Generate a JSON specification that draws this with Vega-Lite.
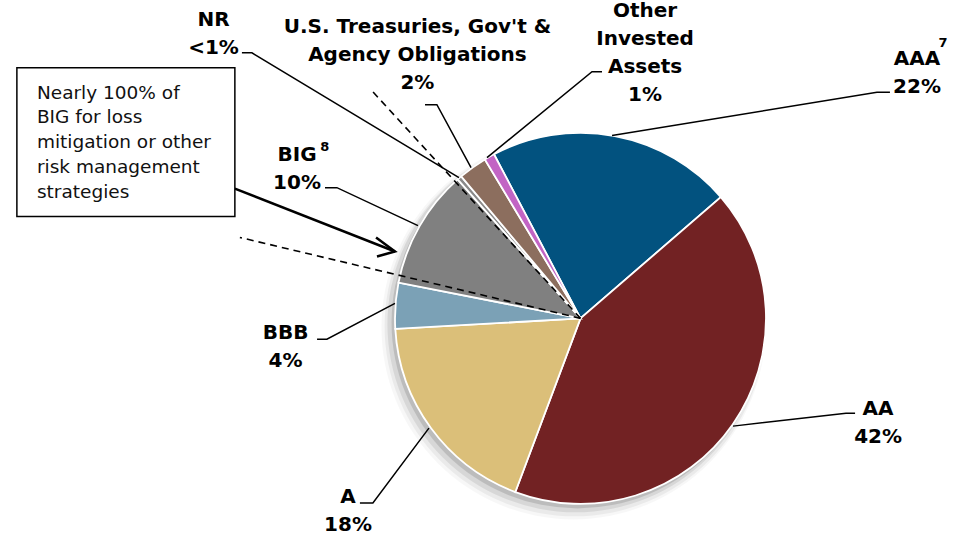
{
  "$schema": "https://vega.github.io/schema/vega-lite/v6.json",
  "width": 961,
  "height": 535,
  "autosize": {"type": "fit", "contains": "padding"},
  "padding": 0,
  "background": "white",
  "config": {"view": {"stroke": null}},
  "datasets": {
    "slices": [
      {"segment": "AAA", "value": 21.4, "order": 1},
      {"segment": "AA", "value": 42.1, "order": 2},
      {"segment": "A", "value": 18.4, "order": 3},
      {"segment": "BBB", "value": 4.0, "order": 4},
      {"segment": "BIG", "value": 10.4, "order": 5},
      {"segment": "NR", "value": 0.4, "order": 6},
      {"segment": "U.S. Treasuries, Gov't & Agency Obligations", "value": 2.5, "order": 7},
      {"segment": "Other Invested Assets", "value": 0.9, "order": 8}
    ],
    "labels": [
      {"label": "AAA\n22%", "x": 181.4, "y": 136.9},
      {"label": "AA\n42%", "x": 160.4, "y": -52.3},
      {"label": "A\n18%", "x": -125.3, "y": -99.7},
      {"label": "BBB\n4%", "x": -159.0, "y": -11.3},
      {"label": "BIG\n10%", "x": -152.8, "y": 85.2},
      {"label": "NR\n<1%", "x": -197.8, "y": 158.0},
      {"label": "U.S. Treasuries, Gov't &\nAgency Obligations\n2%", "x": -87.9, "y": 154.2},
      {"label": "Other\nInvested\nAssets\n1%", "x": 34.8, "y": 163.0}
    ],
    "notes": [
      {"label": "7", "x": 195.4, "y": 146.6},
      {"label": "8", "x": -137.8, "y": 90.6}
    ],
    "leaders": [
      {"id": "AAA", "seq": 1, "x": 166.8, "y": 122.1},
      {"id": "AAA", "seq": 2, "x": 159.8, "y": 122.1},
      {"id": "AAA", "seq": 3, "x": 17.0, "y": 98.7},
      {"id": "AA", "seq": 1, "x": 148.0, "y": -51.2},
      {"id": "AA", "seq": 2, "x": 143.1, "y": -51.2},
      {"id": "AA", "seq": 3, "x": 82.2, "y": -58.2},
      {"id": "A", "seq": 1, "x": -118.9, "y": -99.7},
      {"id": "A", "seq": 2, "x": -111.9, "y": -99.7},
      {"id": "A", "seq": 3, "x": -81.7, "y": -59.3},
      {"id": "BBB", "seq": 1, "x": -142.0, "y": -11.3},
      {"id": "BBB", "seq": 2, "x": -136.7, "y": -11.3},
      {"id": "BBB", "seq": 3, "x": -100.0, "y": 8.1},
      {"id": "BIG", "seq": 1, "x": -137.7, "y": 70.6},
      {"id": "BIG", "seq": 2, "x": -131.3, "y": 70.6},
      {"id": "BIG", "seq": 3, "x": -87.6, "y": 50.1},
      {"id": "NR", "seq": 1, "x": -182.5, "y": 143.4},
      {"id": "NR", "seq": 2, "x": -177.1, "y": 143.4},
      {"id": "NR", "seq": 3, "x": -65.5, "y": 76.0},
      {"id": "UST", "seq": 1, "x": -83.8, "y": 115.4},
      {"id": "UST", "seq": 2, "x": -77.4, "y": 115.4},
      {"id": "UST", "seq": 3, "x": -59.0, "y": 81.4},
      {"id": "Other", "seq": 1, "x": 11.6, "y": 133.2},
      {"id": "Other", "seq": 2, "x": 6.2, "y": 133.2},
      {"id": "Other", "seq": 3, "x": -50.4, "y": 86.8}
    ],
    "dashes": [
      {"x": 0, "y": 0, "x2": -112.4, "y2": 122.9},
      {"x": 0, "y": 0, "x2": -183.6, "y2": 43.7}
    ],
    "arrow": [
      {"id": "shaft", "seq": 1, "x": -186.3, "y": 70.1},
      {"id": "shaft", "seq": 2, "x": -100.0, "y": 36.1},
      {"id": "head", "seq": 1, "x": -110.2, "y": 43.7},
      {"id": "head", "seq": 2, "x": -100.0, "y": 36.1},
      {"id": "head", "seq": 3, "x": -109.7, "y": 33.4}
    ],
    "box": [
      {"x": -303.8, "x2": -186.3, "y": 135.3, "y2": 55.0}
    ],
    "boxtext": [
      {"label": "Nearly 100% of\nBIG for loss\nmitigation or other\nrisk management\nstrategies", "x": -293.0, "y": 118.6}
    ]
  },
  "encoding": {
    "x": {"type": "quantitative", "scale": {"domain": [-312.9, 205.1], "nice": false, "zero": false}, "axis": null},
    "y": {"type": "quantitative", "scale": {"domain": [-117.0, 171.4], "nice": false, "zero": false}, "axis": null}
  },
  "layer": [
    {
      "data": {"values": [{}]},
      "mark": {"type": "arc", "theta": 0, "theta2": 6.2832, "outerRadius": 192, "fill": "#000000", "fillOpacity": 0.03},
      "encoding": {"x": {"datum": -3.8, "type": "quantitative"}, "y": {"datum": -4.9, "type": "quantitative"}}
    },
    {
      "data": {"values": [{}]},
      "mark": {"type": "arc", "theta": 0, "theta2": 6.2832, "outerRadius": 190, "fill": "#000000", "fillOpacity": 0.05},
      "encoding": {"x": {"datum": -3.2, "type": "quantitative"}, "y": {"datum": -4.3, "type": "quantitative"}}
    },
    {
      "data": {"values": [{}]},
      "mark": {"type": "arc", "theta": 0, "theta2": 6.2832, "outerRadius": 188, "fill": "#000000", "fillOpacity": 0.08},
      "encoding": {"x": {"datum": -2.7, "type": "quantitative"}, "y": {"datum": -3.2, "type": "quantitative"}}
    },
    {
      "data": {"values": [{}]},
      "mark": {"type": "arc", "theta": 0, "theta2": 6.2832, "outerRadius": 186, "fill": "#000000", "fillOpacity": 0.12},
      "encoding": {"x": {"datum": -1.6, "type": "quantitative"}, "y": {"datum": -2.2, "type": "quantitative"}}
    },
    {
      "data": {"name": "slices"},
      "mark": {"type": "arc", "outerRadius": 185.5, "stroke": "#ffffff", "strokeWidth": 1.8},
      "encoding": {
        "x": {"datum": 0, "type": "quantitative"},
        "y": {"datum": 0, "type": "quantitative"},
        "theta": {"field": "value", "type": "quantitative", "stack": true, "scale": {"range": [-0.4852, 5.798]}},
        "order": {"field": "order", "type": "quantitative"},
        "color": {
          "field": "segment",
          "type": "nominal",
          "legend": null,
          "scale": {
            "domain": ["AAA", "AA", "A", "BBB", "BIG", "NR", "U.S. Treasuries, Gov't & Agency Obligations", "Other Invested Assets"],
            "range": ["#02527F", "#722223", "#DBBF79", "#7BA1B6", "#808080", "#8A8A8A", "#8C6E5E", "#C264C4"]
          }
        }
      }
    },
    {
      "data": {"name": "dashes"},
      "mark": {"type": "rule", "color": "#000000", "strokeWidth": 1.6, "strokeDash": [7, 5]},
      "encoding": {
        "x": {"field": "x", "type": "quantitative"},
        "y": {"field": "y", "type": "quantitative"},
        "x2": {"field": "x2"},
        "y2": {"field": "y2"}
      }
    },
    {
      "data": {"name": "leaders"},
      "mark": {"type": "line", "color": "#000000", "strokeWidth": 1.5},
      "encoding": {
        "x": {"field": "x", "type": "quantitative"},
        "y": {"field": "y", "type": "quantitative"},
        "detail": {"field": "id", "type": "nominal"},
        "order": {"field": "seq", "type": "quantitative"}
      }
    },
    {
      "data": {"name": "arrow"},
      "mark": {"type": "line", "color": "#000000", "strokeWidth": 2.5, "strokeJoin": "miter"},
      "encoding": {
        "x": {"field": "x", "type": "quantitative"},
        "y": {"field": "y", "type": "quantitative"},
        "detail": {"field": "id", "type": "nominal"},
        "order": {"field": "seq", "type": "quantitative"}
      }
    },
    {
      "data": {"name": "box"},
      "mark": {"type": "rect", "fill": "#ffffff", "stroke": "#000000", "strokeWidth": 1.5},
      "encoding": {
        "x": {"field": "x", "type": "quantitative"},
        "x2": {"field": "x2"},
        "y": {"field": "y", "type": "quantitative"},
        "y2": {"field": "y2"}
      }
    },
    {
      "data": {"name": "boxtext"},
      "mark": {"type": "text", "align": "left", "baseline": "alphabetic", "font": "DejaVu Sans", "fontSize": 18.5, "lineBreak": "\n", "lineHeight": 24.7, "color": "#111111"},
      "encoding": {
        "x": {"field": "x", "type": "quantitative"},
        "y": {"field": "y", "type": "quantitative"},
        "text": {"field": "label"}
      }
    },
    {
      "data": {"name": "labels"},
      "mark": {"type": "text", "align": "center", "baseline": "alphabetic", "font": "DejaVu Sans", "fontWeight": "bold", "fontSize": 20, "lineBreak": "\n", "lineHeight": 28, "color": "#000000"},
      "encoding": {
        "x": {"field": "x", "type": "quantitative"},
        "y": {"field": "y", "type": "quantitative"},
        "text": {"field": "label"}
      }
    },
    {
      "data": {"name": "notes"},
      "mark": {"type": "text", "align": "center", "baseline": "alphabetic", "font": "DejaVu Sans", "fontWeight": "bold", "fontSize": 13, "color": "#000000"},
      "encoding": {
        "x": {"field": "x", "type": "quantitative"},
        "y": {"field": "y", "type": "quantitative"},
        "text": {"field": "label"}
      }
    }
  ]
}
